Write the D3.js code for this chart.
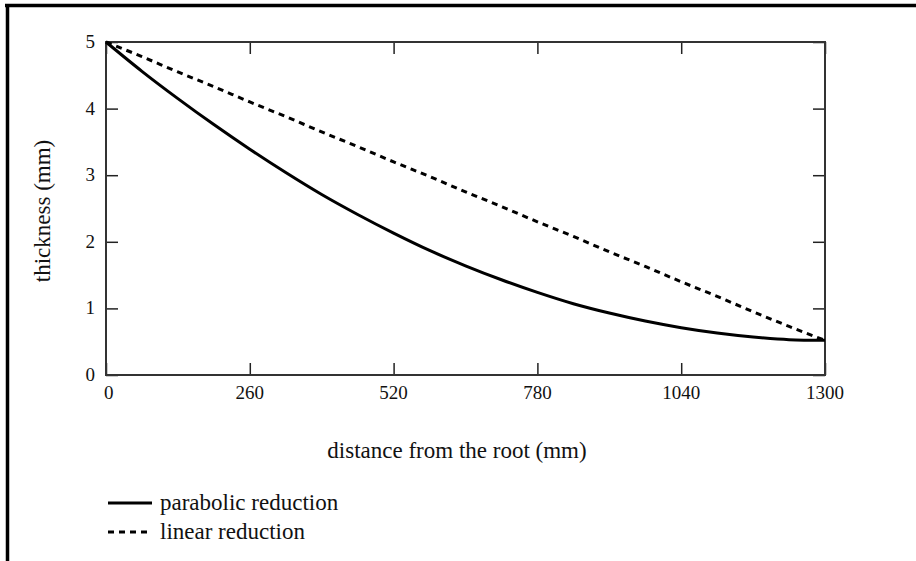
<!DOCTYPE html>
<html>
<head>
<meta charset="utf-8">
<script src="https://cdn.jsdelivr.net/npm/d3@7"></script>
<style>
  body { margin: 0; background: #fff; }
  svg text { font-family: "Liberation Serif", "Times New Roman", serif; fill: #111; }
</style>
</head>
<body>
<svg id="chart" width="916" height="561"></svg>
<script>
// distance from the root (mm)
var distances = [0, 65, 130, 195, 260, 325, 390, 455, 520, 585, 650, 715, 780, 845, 910, 975, 1040, 1105, 1170, 1235, 1300];
// thickness (mm)
var parabolic = [5.0, 4.56, 4.15, 3.76, 3.39, 3.04, 2.71, 2.41, 2.13, 1.87, 1.64, 1.43, 1.24, 1.07, 0.93, 0.81, 0.71, 0.63, 0.57, 0.53, 0.52];
var linear = [5.0, 4.78, 4.55, 4.33, 4.1, 3.88, 3.65, 3.43, 3.2, 2.98, 2.75, 2.53, 2.3, 2.08, 1.85, 1.63, 1.4, 1.18, 0.95, 0.73, 0.52];
var xTicks = [0, 260, 520, 780, 1040, 1300];
var yTicks = [0, 1, 2, 3, 4, 5];
var seriesNames = ["parabolic reduction", "linear reduction"];

var svg = d3.select("#chart");

// outer frame: only top and left edges are visible
svg.append("line").attr("x1", 5).attr("x2", 916).attr("y1", 5.5).attr("y2", 5.5)
    .attr("stroke", "#000").attr("stroke-width", 3.5);
svg.append("line").attr("x1", 7.5).attr("x2", 7.5).attr("y1", 4).attr("y2", 561)
    .attr("stroke", "#000").attr("stroke-width", 3.5);

// plot box (note: "top" would clash with window.top)
var plotLeft = 106, plotRight = 825, plotTop = 42, plotBottom = 375;

var x = d3.scaleLinear().domain([0, 1300]).range([plotLeft, plotRight]);
var y = d3.scaleLinear().domain([0, 5]).range([plotBottom, plotTop]);

var tickLen = 12;

// ticks pointing inward on all four sides
svg.append("g").attr("transform", "translate(0," + plotBottom + ")")
    .call(d3.axisTop(x).tickValues(xTicks).tickSize(tickLen).tickFormat(""))
    .call(function(g) { g.select(".domain").remove(); });
svg.append("g").attr("transform", "translate(0," + plotTop + ")")
    .call(d3.axisBottom(x).tickValues(xTicks).tickSize(tickLen).tickFormat(""))
    .call(function(g) { g.select(".domain").remove(); });
svg.append("g").attr("transform", "translate(" + plotLeft + ",0)")
    .call(d3.axisRight(y).tickValues(yTicks).tickSize(tickLen).tickFormat(""))
    .call(function(g) { g.select(".domain").remove(); });
svg.append("g").attr("transform", "translate(" + plotRight + ",0)")
    .call(d3.axisLeft(y).tickValues(yTicks).tickSize(tickLen).tickFormat(""))
    .call(function(g) { g.select(".domain").remove(); });
svg.selectAll(".tick line").attr("stroke", "#222").attr("stroke-width", 1.5);

svg.append("rect")
    .attr("x", plotLeft).attr("y", plotTop)
    .attr("width", plotRight - plotLeft).attr("height", plotBottom - plotTop)
    .attr("fill", "none").attr("stroke", "#333").attr("stroke-width", 2);

// tick labels
svg.append("g").selectAll("text").data(xTicks).enter().append("text")
    .attr("x", function(d) { return x(d); })
    .attr("y", plotBottom + 24)
    .attr("text-anchor", function(d) { return d === 0 ? "start" : "middle"; })
    .attr("dx", function(d) { return d === 0 ? -2 : 0; })
    .style("font-size", "19px")
    .text(function(d) { return d; });

svg.append("g").selectAll("text").data(yTicks).enter().append("text")
    .attr("x", plotLeft - 11)
    .attr("y", function(d) { return y(d) + 6; })
    .attr("text-anchor", "end")
    .style("font-size", "19px")
    .text(function(d) { return d; });

// axis titles
svg.append("text").attr("x", 457).attr("y", 458).attr("text-anchor", "middle")
    .style("font-size", "23px").text("distance from the root (mm)");
svg.append("text").attr("transform", "translate(50,211) rotate(-90)").attr("text-anchor", "middle")
    .style("font-size", "23px").text("thickness (mm)");

var line = d3.line().curve(d3.curveMonotoneX)
    .x(function(d) { return x(d[0]); })
    .y(function(d) { return y(d[1]); });

svg.append("path")
    .datum(d3.zip(distances, linear))
    .attr("d", line).attr("fill", "none")
    .attr("stroke", "#000").attr("stroke-width", 3).attr("stroke-dasharray", "6,5");

svg.append("path")
    .datum(d3.zip(distances, parabolic))
    .attr("d", line).attr("fill", "none")
    .attr("stroke", "#000").attr("stroke-width", 3);

// legend
var legend = svg.append("g");
seriesNames.forEach(function(name, i) {
    var ly = 503 + i * 29;
    legend.append("line").attr("x1", 108).attr("x2", 152).attr("y1", ly).attr("y2", ly)
        .attr("stroke", "#000").attr("stroke-width", 3)
        .attr("stroke-dasharray", i === 1 ? "6,5" : null);
    legend.append("text").attr("x", 160).attr("y", ly + 7)
        .style("font-size", "23px").text(name);
});
</script>
</body>
</html>
